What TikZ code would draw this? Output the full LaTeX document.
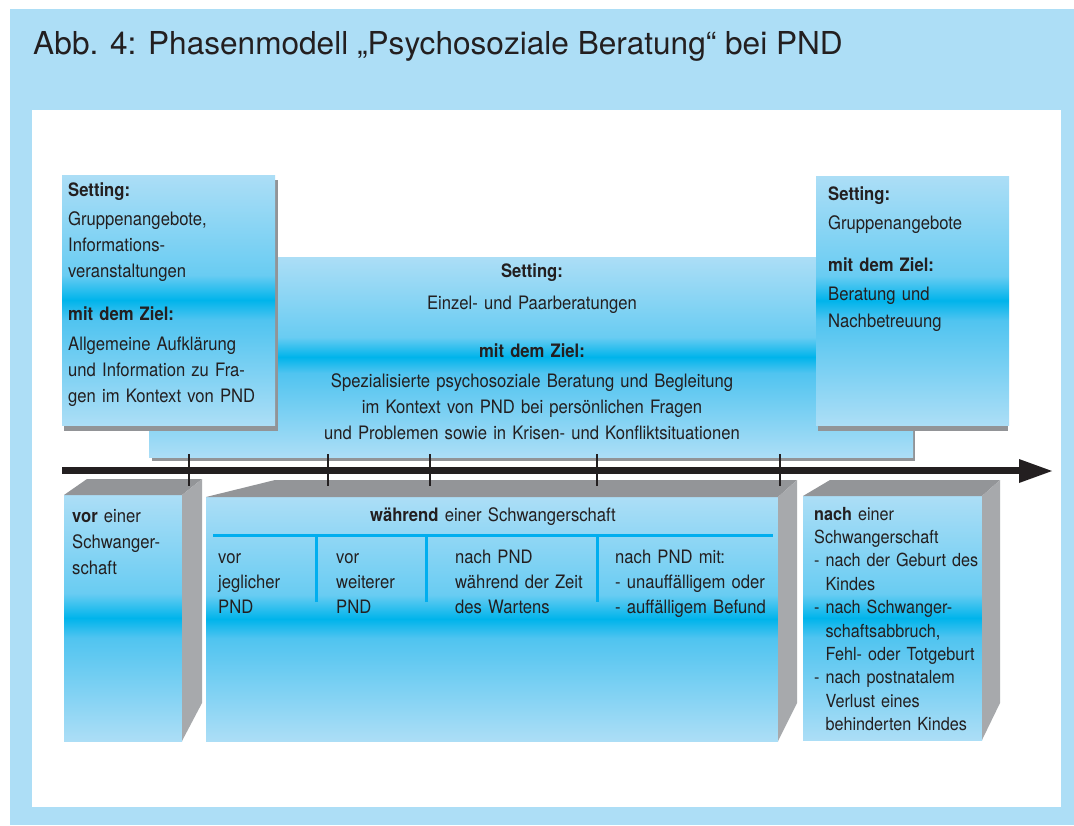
\documentclass[tikz,border=0pt]{standalone}
\usepackage{fontspec}
\setmainfont{TeX Gyre Heros}[FakeStretch=0.9]
\newfontfamily\titlefont{TeX Gyre Heros}
\definecolor{framebg}{RGB}{173,222,246}
\definecolor{lb}{RGB}{172,222,246}
\definecolor{mbA}{RGB}{105,204,242}
\definecolor{cy}{RGB}{0,180,235}
\definecolor{mbB}{RGB}{80,196,240}
\definecolor{shadowgray}{RGB}{146,148,151}
\definecolor{topgray}{RGB}{147,149,152}
\definecolor{sidegray}{RGB}{167,169,172}
\definecolor{txt}{RGB}{35,31,32}
\definecolor{divline}{RGB}{0,174,239}
\pgfdeclareverticalshading{boxshade}{100bp}{color(0bp)=(lb); color(25bp)=(lb); color(46bp)=(mbB); color(50bp)=(cy); color(55bp)=(mbA); color(75bp)=(lb); color(100bp)=(lb)}
\tikzset{
  bluebox/.style={shading=boxshade},
  shadowbox/.style={fill=shadowgray},
  topface/.style={fill=topgray},
  sideface/.style={fill=sidegray},
  bodytext/.style={inner sep=0pt, text=txt, align=left, text width=300pt,
    font=\fontsize{18.5}{26}\selectfont},
  coltext/.style={bodytext, font=\fontsize{18.5}{25}\selectfont},
  divider/.style={draw=divline, line width=3pt},
  tick/.style={draw=txt, line width=2.5pt},
}
\begin{document}
\begin{tikzpicture}[x=1pt, y=-1pt]
\useasboundingbox (0,0) rectangle (1074,825);
% frame
\fill[framebg] (10,9) rectangle (1074,825);
\fill[white] (32,110) rectangle (1061,807);
\node[anchor=base west, inner sep=0pt, text=txt, font=\titlefont\fontsize{31.6}{38}\selectfont] (title) at (33,54) {Abb. 4: Phasenmodell „Psychosoziale Beratung“ bei PND};

% center box
\fill[shadowbox] (152,261) rectangle (915,461);
\path[bluebox] (149,257) rectangle (913,457);
% left top box
\fill[shadowbox] (64,180) rectangle (278,431);
\path[bluebox] (62,175) rectangle (275,425);
% right top box
\fill[shadowbox] (818,180) rectangle (1008,431);
\path[bluebox] (816,176) rectangle (1009,425);

\node[bodytext, anchor=base west] (tlText) at (68,196)
  {\textbf{Setting:}\\[3pt]
   Gruppenangebote,\\
   Informations-\\
   veranstaltungen\\[17pt]
   \textbf{mit dem Ziel:}\\[4pt]
   Allgemeine Aufklärung\\
   und Information zu Fra-\\
   gen im Kontext von PND};

\node[bodytext, anchor=base, align=center, text width=560pt] (ctrText) at (532,277)
  {\textbf{Setting:}\\[6pt]
   Einzel- und Paarberatungen\\[22pt]
   \textbf{mit dem Ziel:}\\[4pt]
   Spezialisierte psychosoziale Beratung und Begleitung\\
   im Kontext von PND bei persönlichen Fragen\\
   und Problemen sowie in Krisen- und Konfliktsituationen};

\node[bodytext, anchor=base west] (trText) at (828,200)
  {\textbf{Setting:}\\[3pt]
   Gruppenangebote\\[16pt]
   \textbf{mit dem Ziel:}\\[3pt]
   Beratung und\\[1pt]
   Nachbetreuung};

% bottom box 1
\path[bluebox] (64,495) rectangle (182,741);
\fill[topface] (64,495) -- (87,479) -- (202,479) -- (182,495) -- cycle;
\fill[sideface] (182,495) -- (202,479) -- (202,703) -- (182,741) -- cycle;
\node[bodytext, anchor=base west] (b1Text) at (72,522)
  {\textbf{vor} einer\\ Schwanger-\\ schaft};

% bottom box 2
\path[bluebox] (206,497) rectangle (778,741);
\fill[topface] (206,497) -- (275,480) -- (797,480) -- (778,497) -- cycle;
\fill[sideface] (778,497) -- (797,480) -- (797,703) -- (778,741) -- cycle;
\node[bodytext, anchor=base, align=center] (b2Head) at (493,521)
  {\textbf{während} einer Schwangerschaft};
\draw[divider] (213,535) -- (773,535);
\draw[divider] (316,535) -- (316,602);
\draw[divider] (426,535) -- (426,602);
\draw[divider] (597,535) -- (597,602);
\node[coltext, anchor=base west] (colA) at (218,563) {vor\\ jeglicher\\ PND};
\node[coltext, anchor=base west] (colB) at (336,563) {vor\\ weiterer\\ PND};
\node[coltext, anchor=base west] (colC) at (455,563) {nach PND\\ während der Zeit\\ des Wartens};
\node[coltext, anchor=base west] (colD) at (615,563) {nach PND mit:\\ - unauffälligem oder\\ - auffälligem Befund};

% bottom box 3
\path[bluebox] (803,496) rectangle (982,740);
\fill[topface] (803,496) -- (830,480) -- (1000,480) -- (982,496) -- cycle;
\fill[sideface] (982,496) -- (1000,480) -- (1000,703) -- (982,740) -- cycle;
\node[bodytext, anchor=base west, font=\fontsize{18}{23.4}\selectfont] (b3Text) at (814,520)
  {\textbf{nach} einer\\
   Schwangerschaft\\
   - nach der Geburt des\\
   \hphantom{- }Kindes\\
   - nach Schwanger-\\
   \hphantom{- }schaftsabbruch,\\
   \hphantom{- }Fehl- oder Totgeburt\\
   - nach postnatalem\\
   \hphantom{- }Verlust eines\\
   \hphantom{- }behinderten Kindes};

% ticks
\draw[tick] (189,454) -- (189,486);
\draw[tick] (328,454) -- (328,486);
\draw[tick] (430,454) -- (430,486);
\draw[tick] (597,454) -- (597,486);
\draw[tick] (780,454) -- (780,486);

% time arrow
\coordinate (arrS) at (62,470.5);
\coordinate (arrE) at (1020,470.5);
\coordinate (arrTip) at (1052,471);
\draw[txt, line width=7pt] (arrS) -- (arrE);
\fill[txt] (1019,459) -- (arrTip) -- (1019,483) -- cycle;
\end{tikzpicture}
\end{document}
